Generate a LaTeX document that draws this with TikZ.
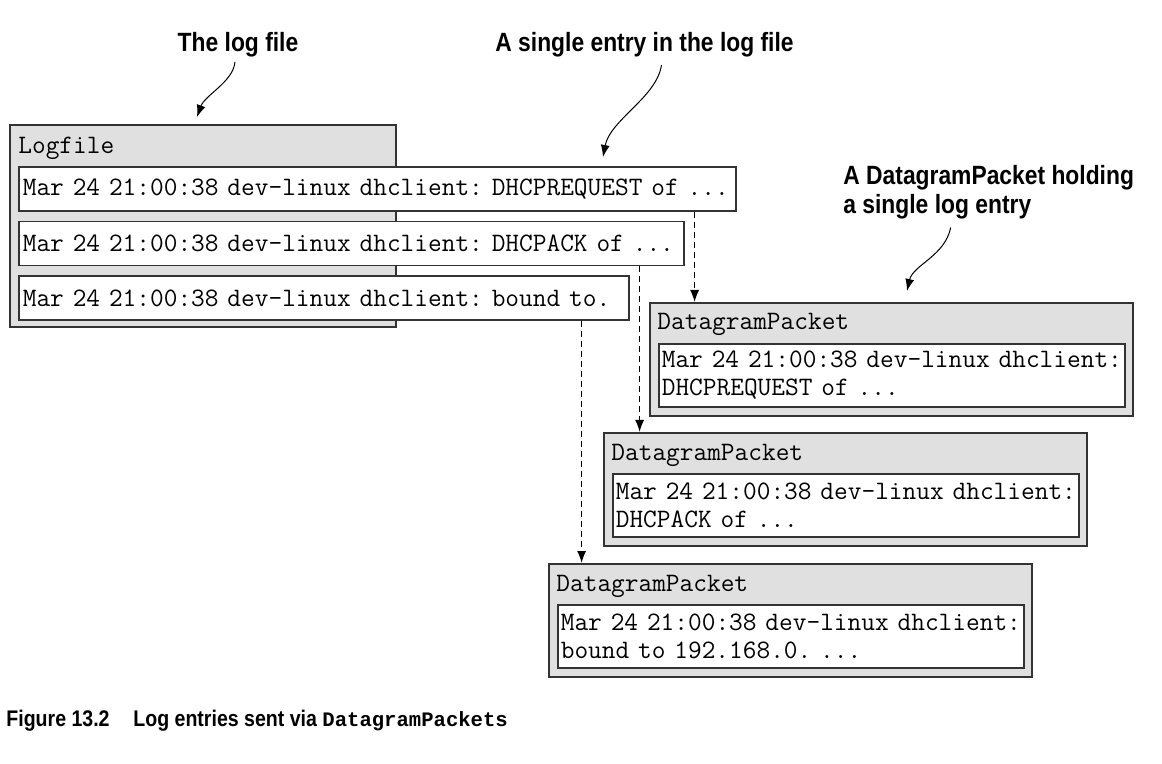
\documentclass[tikz,border=0pt]{standalone}
\usepackage{fontspec}
\newfontfamily\notefont[FakeStretch=0.865]{Liberation Sans}
\newfontfamily\capmono{Liberation Mono}
\newcommand\mdots{...}
\usetikzlibrary{arrows.meta,positioning}
\tikzset{>={Latex[length=6pt,width=4.5pt]}}
\tikzset{
  note/.style={font=\notefont\bfseries\fontsize{13.2}{14.5}\selectfont, inner sep=2pt},
  capnote/.style={font=\notefont\bfseries\fontsize{11.3}{14}\selectfont, inner sep=2pt, anchor=base west},
  mono/.style={font=\fontsize{13.3}{14}\selectfont\ttfamily\frenchspacing},
  holder/.style={draw=black!80, line width=0.8pt, fill=black!12, anchor=north west, inner sep=0pt},
  entry/.style={mono, draw=black!80, line width=0.8pt, fill=white, anchor=north west, inner xsep=2pt, inner ysep=0pt, align=left},
  title/.style={mono, anchor=base west, inner sep=0pt},
  flow/.style={->, dash pattern=on 3pt off 2pt, line width=0.6pt},
  pointer/.style={->, line width=0.5pt}
}

\begin{document}
\begin{tikzpicture}[x=0.5pt, y=-0.5pt]
  \useasboundingbox (0,0) rectangle (1162,764);
  % notes
  \node[note, anchor=base] (lognote) at (238,52) {The log file};
  \node[note, anchor=base west] (entrynote) at (491,52) {A single entry in the log file};
  \node[note, anchor=north west, align=left] (packetnote) at (839,161) {A DatagramPacket holding\\a single log entry};
  % log file
  \node[holder, minimum width=193pt, minimum height=101pt] (logfile) at (9,124) {};
  \node[title] (logtitle) at ([xshift=4.5pt,yshift=-15pt]logfile.north west) {Logfile};
  \node[entry, text width=354.5pt, minimum height=22pt] (e1) at ([xshift=4.5pt,yshift=-21pt]logfile.north west) {\mbox{Mar 24 21:00:38 dev-linux dhclient: DHCPREQUEST of ...}};
  \node[entry, text width=328.5pt, minimum height=22pt, below=4.5pt of e1.south west, anchor=north west] (e2) {\mbox{Mar 24 21:00:38 dev-linux dhclient: DHCPACK of ...}};
  \node[entry, text width=301pt, minimum height=22pt, below=4.5pt of e2.south west, anchor=north west] (e3) {\mbox{Mar 24 21:00:38 dev-linux dhclient: bound to.}};
  % datagram packets
  \foreach \n/\x/\y/\msg in {1/649/302/DHCPREQUEST of \mdots, 2/603/432/DHCPACK of \mdots, 3/548/563/bound to 192.168.0. \mdots} {
    \node[holder, minimum width=241.5pt, minimum height=56.5pt] (dp\n) at (\x,\y) {};
    \node[title] (dptitle\n) at ([xshift=4pt,yshift=-14pt]dp\n.north west) {DatagramPacket};
    \node[entry, inner xsep=1.5pt, text width=230pt, minimum height=31.5pt] (dpentry\n) at ([xshift=4.5pt,yshift=-20.5pt]dp\n.north west) {\mbox{Mar 24 21:00:38 dev-linux dhclient:}\\\mbox{\msg}};
  }
  % entries sent as packets
  \foreach \n/\d in {1/21pt,2/22.5pt,3/24pt} {
    \coordinate (out\n) at ([xshift=-\d]e\n.south east);
    \draw[flow] (out\n) -- (out\n |- dp\n.north);
  }
  % note arrows
  \coordinate (logtip) at (197,117);
  \coordinate (entrytip) at (603,157);
  \coordinate (packettip) at (907,291);
  \draw[pointer] ([xshift=-1.5pt]lognote.south) .. controls (233,82) and (205,95) .. (logtip);
  \draw[pointer] ([xshift=8.5pt,yshift=-1.5pt]entrynote.south) .. controls (657,97) and (610,120) .. (entrytip);
  \draw[pointer] ([xshift=-19pt,yshift=-2pt]packetnote.south) .. controls (945,256) and (913,265) .. (packettip);
  % caption
  \node[capnote] (figno) at (2,726) {Figure 13.2};
  \node[capnote] (figtext) at (129,726) {Log entries sent via {\capmono\fontsize{10.3}{14}\selectfont DatagramPackets}};
\end{tikzpicture}
\end{document}
